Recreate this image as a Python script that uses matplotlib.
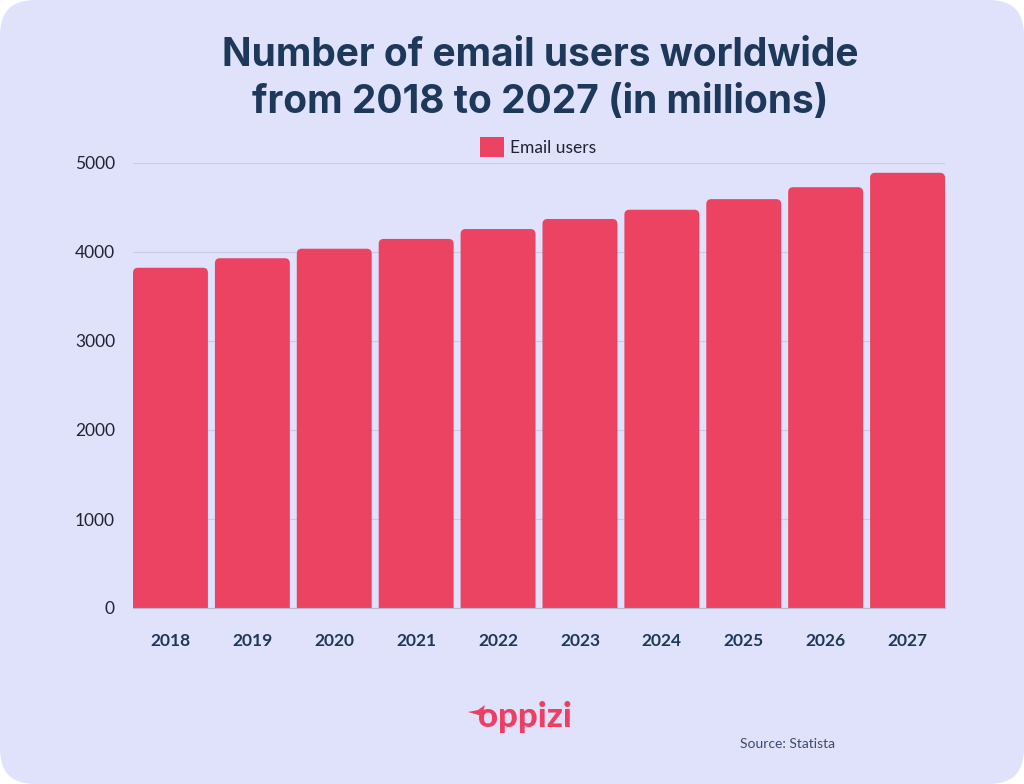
import matplotlib
matplotlib.use("Agg")
import matplotlib.pyplot as plt
from matplotlib.patches import FancyBboxPatch, Polygon

years = ["2018", "2019", "2020", "2021", "2022", "2023", "2024", "2025", "2026", "2027"]
email_users = [3823, 3930, 4037, 4147, 4258, 4371, 4475, 4594, 4728, 4890]
y_ticks = [0, 1000, 2000, 3000, 4000, 5000]

BG = "#E0E2FC"
BAR = "#EC4363"
NAVY = "#1E3859"
FONT = ["Lato", "DejaVu Sans"]
TFONT = ["Inter", "DejaVu Sans"]

W, H = 1024, 784
fig = plt.figure(figsize=(W / 100, H / 100), dpi=100)
fig.patch.set_facecolor("white")
card = FancyBboxPatch((0, 0), 1, 1, boxstyle="round,pad=0,rounding_size=0.034",
                      mutation_aspect=W / H, transform=fig.transFigure,
                      facecolor=BG, edgecolor="none", zorder=-10)
fig.patches.append(card)

ax = fig.add_axes([133 / W, 1 - 608 / H, (945 - 133) / W, (608 - 163) / H])
ax.set_facecolor(BG)
ax.patch.set_alpha(0)

bw = 0.915
x = list(range(len(years)))
bars = ax.bar(x, email_users, width=bw, color=BAR, zorder=3, label="Email users")
ax.set_xlim(-bw / 2, len(years) - 1 + bw / 2)
ax.set_ylim(0, 5000)

# replace bars with top-rounded bars
fig.canvas.draw()
px_per_x = ax.transData.transform((1, 0))[0] - ax.transData.transform((0, 0))[0]
px_per_y = ax.transData.transform((0, 1000))[1] - ax.transData.transform((0, 0))[1]
px_per_y /= 1000.0
r_px = 5
r_x = r_px / px_per_x
aspect = (r_px / px_per_y) / r_x
for b in bars:
    bx, by = b.get_x(), b.get_y()
    bwid, bh = b.get_width(), b.get_height()
    b.set_visible(False)
    extra = 200
    p = FancyBboxPatch((bx, by - extra), bwid, bh + extra,
                       boxstyle=f"round,pad=0,rounding_size={r_x}",
                       mutation_aspect=aspect, facecolor=BAR, edgecolor="none",
                       zorder=3, clip_on=True)
    ax.add_patch(p)

ax.set_yticks(y_ticks)
ax.set_yticklabels([str(t) for t in y_ticks], fontsize=12.5, color="#222233",
                   family=FONT)
ax.set_xticks(x)
ax.set_xticklabels(years, fontsize=12.5, fontweight="bold", color=NAVY, family=FONT)
ax.tick_params(axis="both", length=0)
ax.tick_params(axis="y", pad=13)
ax.tick_params(axis="x", pad=18)
ax.grid(axis="y", color="#C9CBE6", linewidth=0.8, zorder=0)
for s in ["top", "right", "left"]:
    ax.spines[s].set_visible(False)
ax.spines["bottom"].set_color("#B8BAD6")
ax.spines["bottom"].set_linewidth(0.8)
ax.spines["bottom"].set_zorder(4)

leg_handle = plt.Rectangle((0, 0), 1, 1, facecolor=BAR, edgecolor="none")
leg = fig.legend([leg_handle], ["Email users"], loc="center",
                 bbox_to_anchor=(538 / W, 1 - 147 / H), frameon=False,
                 prop={"family": FONT, "size": 12.5}, handlelength=1.4,
                 handleheight=1.4, handletextpad=0.3, borderpad=0)
for t in leg.get_texts():
    t.set_color("#222233")

fig.text(540 / W, 1 - 55 / H, "Number of email users worldwide",
         ha="center", va="center", fontsize=28, fontweight="bold",
         color=NAVY, family=TFONT)
fig.text(540 / W, 1 - 102 / H, "from 2018 to 2027 (in millions)",
         ha="center", va="center", fontsize=28, fontweight="bold",
         color=NAVY, family=TFONT)

fig.text(525 / W, 1 - 717 / H, "oppizi", ha="center", va="center",
         fontsize=25, fontweight="black", color="#EE3F63", family=FONT)
# small bird mark of the logo
bird = Polygon([(468 / W, 1 - 712 / H), (478 / W, 1 - 710 / H), (485 / W, 1 - 705 / H),
                (482 / W, 1 - 716 / H), (475 / W, 1 - 714 / H)],
               closed=True, transform=fig.transFigure, facecolor="#EE3F63",
               edgecolor="none")
fig.patches.append(bird)
fig.text(787 / W, 1 - 744 / H, "Source: Statista", ha="center", va="center",
         fontsize=10, color="#3D4A6B", family=FONT)

fig.savefig("out.png", dpi=100, facecolor=fig.get_facecolor())
